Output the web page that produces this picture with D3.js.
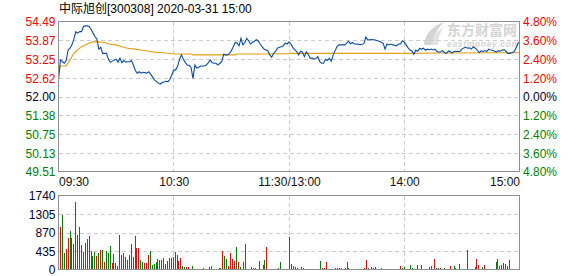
<!DOCTYPE html>
<html>
<head>
<meta charset="utf-8">
<script src="https://cdn.jsdelivr.net/npm/d3@7"></script>
<style>
  body { margin: 0; background: #fff; }
  text { font-family: Arial, "Liberation Sans", "Noto Sans CJK SC", sans-serif; font-size: 12px; }
</style>
</head>
<body>
<div id="chart"></div>
<script>
// DATA
const title = "中际旭创[300308] 2020-03-31 15:00";
const prevClose = 52.00;
const priceTicks = [54.49, 53.87, 53.25, 52.62, 52.00, 51.38, 50.75, 50.13, 49.51];
const pctTicks = ["4.80%", "3.60%", "2.40%", "1.20%", "0.00%", "1.20%", "2.40%", "3.60%", "4.80%"];
const volTicks = [0, 435, 870, 1305, 1740];
const timeTicks = [0, 60, 120, 180, 240];
const timeLabels = ["09:30", "10:30", "11:30/13:00", "14:00", "15:00"];

// one price per minute, 09:30 .. 11:30 then 13:01 .. 15:00
const prices = [
  52.57, 53.23, 53.17, 53.12, 53.21, 53.56, 53.62, 53.73, 53.92, 54.17,
  54.12, 54.17, 54.17, 54.34, 54.36, 54.36, 54.34, 54.25, 54.12, 54.01,
  53.92, 53.59, 53.65, 53.45, 53.45, 53.45, 53.25, 53.15, 53.19, 53.23,
  53.25, 53.16, 53.29, 53.14, 53.21, 53.16, 53.17, 53.17, 53.21, 53.06,
  52.88, 52.79, 52.84, 52.79, 52.82, 52.81, 52.79, 52.84, 52.76, 52.66,
  52.57, 52.51, 52.46, 52.43, 52.48, 52.50, 52.52, 52.51, 52.59, 52.73,
  52.90, 52.90, 53.01, 53.25, 53.40, 53.25, 53.15, 53.06, 53.05, 52.98,
  52.62, 53.06, 52.96, 52.99, 53.03, 53.03, 53.03, 53.06, 53.14, 53.23,
  53.14, 53.12, 53.12, 53.06, 53.12, 53.17, 53.42, 53.40, 53.40, 53.45,
  53.54, 53.67, 53.81, 53.79, 53.70, 53.95, 53.73, 53.81, 53.95, 53.86,
  53.76, 53.82, 53.85, 53.90, 53.86, 53.76, 53.67, 53.59, 53.56, 53.53,
  53.40, 53.32, 53.45, 53.51, 53.62, 53.65, 53.67, 53.70, 53.79, 53.76,
  53.83, 53.76, 53.64, 53.57, 53.51, 53.40, 53.52, 53.49, 53.34, 53.50,
  53.42, 53.29, 53.29, 53.26, 53.27, 53.34, 53.17, 53.12, 53.12, 53.25,
  53.21, 53.29, 53.19, 53.40, 53.54, 53.67, 53.73, 53.73, 53.73, 53.73,
  53.79, 53.85, 53.77, 53.81, 53.76, 53.76, 53.75, 53.74, 53.75, 53.77,
  53.99, 53.90, 53.90, 53.91, 53.90, 53.89, 53.87, 53.85, 53.82, 53.79,
  53.59, 53.76, 53.73, 53.76, 53.73, 53.72, 53.70, 53.76, 53.76, 53.86,
  53.83, 53.73, 53.63, 53.56, 53.53, 53.42, 53.55, 53.52, 53.61, 53.59,
  53.62, 53.55, 53.59, 53.57, 53.59, 53.56, 53.59, 53.51, 53.49, 53.50,
  53.54, 53.47, 53.45, 53.53, 53.50, 53.46, 53.52, 53.51, 53.52, 53.51,
  53.59, 53.63, 53.65, 53.62, 53.63, 53.59, 53.67, 53.62, 53.56, 53.47,
  53.53, 53.51, 53.54, 53.51, 53.59, 53.56, 53.55, 53.52, 53.49, 53.54,
  53.52, 53.56, 53.57, 53.51, 53.45, 53.45, 53.47, 53.49, 53.59, 53.76,
  53.83
];

// average price line, read at these minutes
const avgMinutes = [0, 1, 4, 5, 6, 7, 8, 9, 10, 12, 14, 16, 18, 21, 24, 26, 30, 33, 36, 40,
  43, 47, 50, 54, 57, 60, 69, 70, 92, 93, 110, 120, 121, 180, 200, 240];
const avgPrices = [52.80, 53.03, 53.03, 53.14, 53.23, 53.34, 53.45, 53.51, 53.56, 53.67,
  53.73, 53.79, 53.83, 53.83, 53.81, 53.76, 53.73, 53.67, 53.62, 53.59,
  53.56, 53.52, 53.49, 53.47, 53.45, 53.43, 53.43, 53.40, 53.40, 53.43,
  53.43, 53.44, 53.45, 53.45, 53.46, 53.47];

const volumes = [
  1000, 1290, 390, 490, 760, 920, 760, 600, 1610, 820,
  1010, 590, 430, 630, 730, 800, 450, 340, 430, 340,
  390, 470, 470, 180, 450, 400, 560, 170, 380, 160,
  100, 820, 350, 410, 310, 240, 350, 610, 310, 800,
  525, 510, 235, 180, 170, 155, 350, 450, 120, 140,
  180, 260, 240, 240, 290, 150, 200, 290, 280, 300,
  430, 360, 220, 280, 100, 60, 60, 70, 30, 100,
  20, 20, 20, 20, 20, 50, 30, 30, 70, 90,
  20, 20, 20, 40, 40, 450, 340, 250, 100, 400,
  270, 200, 530, 180, 60, 20, 190, 610, 30, 20,
  70, 50, 50, 20, 200, 30, 120, 230, 550, 30,
  30, 20, 30, 20, 40, 180, 20, 20, 20, 20,
  780,
  140, 95, 70, 40, 25, 70, 45, 25, 25,
  25, 25, 25, 25, 25, 25, 210, 40, 55, 190,
  25, 25, 25, 25, 40, 55, 55, 40, 25, 45,
  190, 45, 25, 25, 25, 25, 25, 25, 25, 40,
  235, 40, 25, 80, 40, 60, 25, 25, 40, 25,
  25, 25, 25, 25, 25, 25, 25, 25, 85, 40,
  70, 25, 25, 120, 45, 25, 25, 120, 25, 120,
  25, 25, 25, 60, 95, 25, 260, 40, 45, 45,
  25, 40, 25, 25, 95, 25, 85, 40, 25, 140,
  25, 25, 25, 470, 25, 25, 25, 70, 260, 120,
  25, 60, 120, 25, 25, 25, 25, 25, 180, 260,
  95, 120, 155, 130, 95, 235, 10, 10, 10, 10,
  880
];
// r = up minute, g = down minute
const volDirs = ("rggrrgrrrg" + "rrrgrgrggr" + "grgrgggrgr" + "rgrrrgrrgg" +
  "rrggrrrggg" + "ggrrgrrrrr" + "rgrrggrrgg" + "rggrgggrrr" +
  "gggrgrggrr" + "rrgrgrrrgg" + "rgrggrggrr" + "rrrrggrgrr" + "r" +
  "rgrggggrr" + "rrrgrrgrrr" + "ggrrrrrrgr" + "rgrgggrrrr" +
  "rgrggrgrgg" + "gggrrgrrrg" + "grggggrrgr" + "rrrgrgrggr" +
  "ggggrrgggr" + "gggrrrrgrr" + "ggrgrrgrgg" + "rgrrggrrrr" + "r").split("");

const RED = "#ff0000";
const GREEN = "#008000";
const DARK = "#000033";

const svg = d3.select("#chart")
  .append("svg")
  .attr("width", 578)
  .attr("height", 276);

const x = d3.scaleLinear().domain([0, 240]).range([58.5, 519.5]);
const xBar = d3.scaleLinear().domain([0, 240]).range([60, 518.5]);
const y = d3.scaleLinear().domain([49.51, 54.49]).range([172, 22]);
const yVol = d3.scaleLinear().domain([0, 1740]).range([270, 196]);

// TITLE
svg.append("text")
  .attr("x", 59)
  .attr("y", 13)
  .style("fill", "#000")
  .text(title);

// WATERMARK
const mark = svg.append("g").style("fill", "#d4d4d4");
mark.append("path")
  .attr("d", "M424,45 C425,34 432,26 444,22 C437,29 433,37 433,45 Z");
mark.append("path")
  .attr("d", "M431,45 C433,37 437,31 443,27 C440,33 438,39 438,45 Z")
  .style("fill", "#e2e2e2");
mark.append("text")
  .attr("x", 447)
  .attr("y", 35)
  .style("font-size", "14px")
  .style("font-weight", "bold")
  .text("东方财富网");
mark.append("text")
  .attr("x", 447)
  .attr("y", 47)
  .style("font-size", "8.5px")
  .style("font-weight", "bold")
  .style("font-style", "italic")
  .attr("textLength", 72)
  .text("eastmoney.com");

// GRID
const gridStyle = (g) => g
  .attr("stroke", "#cccccc")
  .attr("stroke-dasharray", "4,3")
  .attr("shape-rendering", "crispEdges");

svg.append("g")
  .call(gridStyle)
  .selectAll("line.h")
  .data(priceTicks.slice(1, -1))
  .join("line")
  .attr("x1", x(0))
  .attr("x2", x(240))
  .attr("y1", (d) => y(d))
  .attr("y2", (d) => y(d));

svg.append("g")
  .call(gridStyle)
  .selectAll("line.h")
  .data(volTicks.slice(1, -1))
  .join("line")
  .attr("x1", x(0))
  .attr("x2", x(240))
  .attr("y1", (d) => yVol(d))
  .attr("y2", (d) => yVol(d));

[[y(54.49), y(49.51)], [yVol(1740), yVol(0)]].forEach(([top, bottom]) => {
  svg.append("g")
    .call(gridStyle)
    .selectAll("line")
    .data(timeTicks.slice(1, -1))
    .join("line")
    .attr("x1", (d) => x(d))
    .attr("x2", (d) => x(d))
    .attr("y1", top)
    .attr("y2", bottom);
});

// VOLUME BARS
svg.append("g")
  .attr("shape-rendering", "crispEdges")
  .selectAll("rect")
  .data(volumes)
  .join("rect")
  .attr("x", (d, i) => Math.round(xBar(i)) - 0.5)
  .attr("width", 1.2)
  .attr("y", (d) => yVol(d))
  .attr("height", (d) => yVol(0) - yVol(d))
  .attr("fill", (d, i) => (volDirs[i] === "r" ? RED : GREEN));

// AVERAGE + PRICE LINES
svg.append("path")
  .datum(avgMinutes.map((m, i) => [m, avgPrices[i]]))
  .attr("fill", "none")
  .attr("stroke", "#e0a012")
  .attr("stroke-width", 1.1)
  .attr("d", d3.line().x((d) => x(d[0])).y((d) => y(d[1])));

svg.append("path")
  .datum(prices)
  .attr("fill", "none")
  .attr("stroke", "#0a4c9e")
  .attr("stroke-width", 1.1)
  .attr("d", d3.line().x((d, i) => x(i)).y((d) => y(d)));

// FRAMES
[[y(54.49), y(49.51)], [yVol(1740), yVol(0)]].forEach(([top, bottom]) => {
  svg.append("rect")
    .attr("x", x(0))
    .attr("y", Math.round(top) - 0.5)
    .attr("width", x(240) - x(0))
    .attr("height", Math.round(bottom) - Math.round(top))
    .attr("fill", "none")
    .attr("stroke", "#909090")
    .attr("shape-rendering", "crispEdges");
});

// AXES
const colorOf = (v) => (v > prevClose ? RED : v < prevClose ? GREEN : DARK);

svg.append("g")
  .attr("transform", `translate(${x(0)}, 0)`)
  .call(d3.axisLeft(y).tickValues(priceTicks).tickSize(0).tickPadding(3)
    .tickFormat(d3.format(".2f")))
  .call((g) => g.select(".domain").remove())
  .selectAll(".tick text")
  .style("font-size", "12px")
  .style("font-family", "Arial, 'Liberation Sans', sans-serif")
  .style("fill", (d) => colorOf(d));

svg.append("g")
  .attr("transform", `translate(${x(240)}, 0)`)
  .call(d3.axisRight(y).tickValues(priceTicks).tickSize(0).tickPadding(3.5)
    .tickFormat((d, i) => pctTicks[i]))
  .call((g) => g.select(".domain").remove())
  .selectAll(".tick text")
  .style("font-size", "12px")
  .style("font-family", "Arial, 'Liberation Sans', sans-serif")
  .style("fill", (d) => colorOf(d));

svg.append("g")
  .attr("transform", `translate(0, ${y(49.51)})`)
  .call(d3.axisBottom(x).tickValues(timeTicks).tickSize(0).tickPadding(5.5)
    .tickFormat((d, i) => timeLabels[i]))
  .call((g) => g.select(".domain").remove())
  .selectAll(".tick text")
  .style("font-size", "12px")
  .style("font-family", "Arial, 'Liberation Sans', sans-serif")
  .style("fill", "#111")
  .attr("text-anchor", (d, i) => (i === 0 ? "start" : i === timeTicks.length - 1 ? "end" : "middle"));

svg.append("g")
  .attr("transform", `translate(${x(0)}, 0)`)
  .call(d3.axisLeft(yVol).tickValues(volTicks).tickSize(0).tickPadding(3)
    .tickFormat(d3.format("d")))
  .call((g) => g.select(".domain").remove())
  .selectAll(".tick text")
  .style("font-size", "12px")
  .style("font-family", "Arial, 'Liberation Sans', sans-serif")
  .style("fill", DARK);
</script>
</body>
</html>
